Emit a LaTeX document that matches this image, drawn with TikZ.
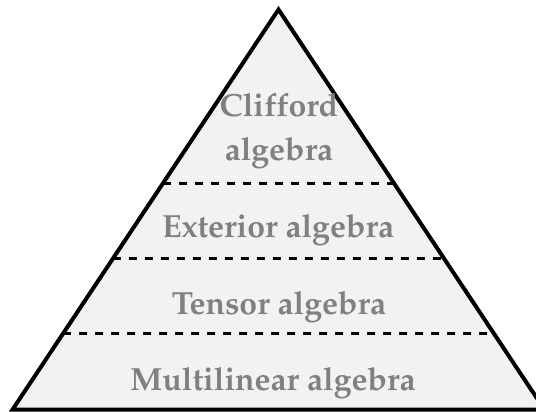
\documentclass[tikz,border=0pt]{standalone}
\usepackage[T1]{fontenc}
\usepackage{mathpazo}
\usetikzlibrary{calc}
\definecolor{pyrfill}{HTML}{F2F2F2}
\definecolor{labelgray}{HTML}{808080}
\tikzset{
  layerlabel/.style={anchor=base, inner sep=0pt, text=labelgray,
    font=\fontsize{32}{36}\selectfont\bfseries},
  layersep/.style={line width=3pt, dash pattern=on 8pt off 8pt},
  pyrline/.style={line width=4pt, line join=miter}
}
\begin{document}
\begin{tikzpicture}[x=1pt,y=-1pt]
\useasboundingbox (0,0) rectangle (536,412);
\clip (0,0) rectangle (536,412);
\coordinate (apex) at (278.5,9.5);
\coordinate (bl) at (12.6,409.5);
\coordinate (br) at (544.4,409.5);
\fill[pyrfill] (apex) -- (bl) -- (br) -- cycle;
\coordinate (l1) at ($(apex)!0.4345!(bl)$);
\coordinate (r1) at ($(apex)!0.4345!(br)$);
\coordinate (l2) at ($(apex)!0.6217!(bl)$);
\coordinate (r2) at ($(apex)!0.6217!(br)$);
\coordinate (l3) at ($(apex)!0.809!(bl)$);
\coordinate (r3) at ($(apex)!0.809!(br)$);
\draw[layersep] (l1) -- (r1);
\draw[layersep] (l2) -- (r2);
\draw[layersep] (l3) -- (r3);
\draw[pyrline] (apex) -- (bl) -- (br) -- cycle;
\node[layerlabel] (cliff1) at (279,117) {Clifford};
\node[layerlabel] (cliff2) at (279,160) {algebra};
\node[layerlabel] (ext) at (278,237) {Exterior algebra};
\node[layerlabel] (ten) at (279,314) {Tensor algebra};
\node[layerlabel] (multi) at (273,390) {Multilinear algebra};
\end{tikzpicture}
\end{document}
